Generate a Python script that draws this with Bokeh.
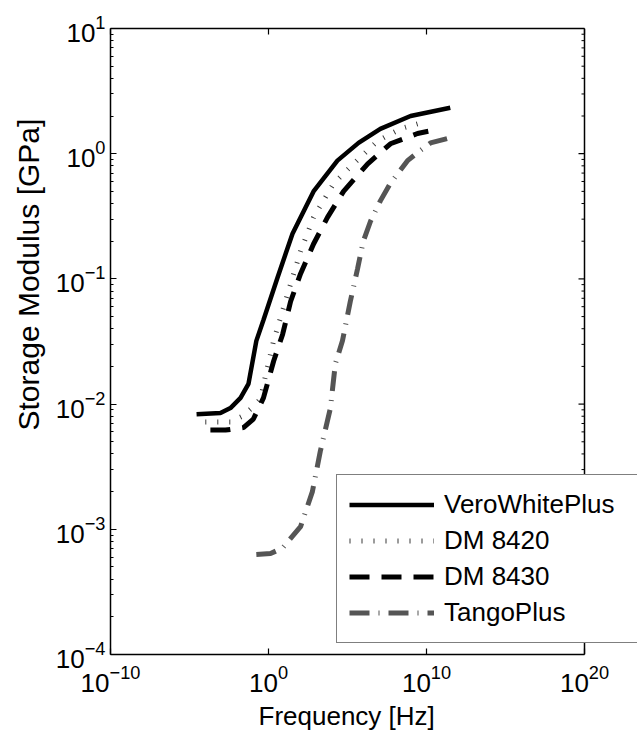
import math
from bokeh.plotting import figure
from bokeh.models import (LogAxis, FixedTicker, Range1d, Legend, LegendItem, Span, Title)
from bokeh.embed import file_html
from bokeh.resources import INLINE

# ---- data ----
vero_f = [2.8e-5, 9.1e-4, 3.9e-3, 0.017, 0.054, 0.17, 0.48, 3.7, 12, 33, 107, 708,
          2.3e4, 5.0e5, 1.2e7, 9.8e8, 3.2e11]
vero_e = [0.0083, 0.0085, 0.0093, 0.0112, 0.0145, 0.032, 0.047, 0.102, 0.158, 0.229,
          0.309, 0.50, 0.88, 1.22, 1.58, 2.0, 2.33]

dm8420_f = [1.0e-4, 5.9e-4, 3.9e-3, 0.022, 0.072, 0.31, 0.8, 2.1, 25, 107, 708,
            1.3e4, 2.4e5, 7.9e6, 2.2e8, 5.6e9]
dm8420_e = [0.0072, 0.0072, 0.0072, 0.0080, 0.0091, 0.011, 0.019, 0.032, 0.091, 0.166,
            0.31, 0.575, 0.83, 1.26, 1.58, 1.78]

dm8430_f = [2.1e-4, 1.9e-3, 0.026, 0.11, 0.48, 2.1, 7.8, 25, 107, 708, 5.4e3, 5.6e4,
            1.9e6, 5.2e7, 2.7e9, 1.3e10]
dm8430_e = [0.0062, 0.0062, 0.0065, 0.0076, 0.0112, 0.022, 0.036, 0.066, 0.11, 0.19,
            0.31, 0.50, 0.83, 1.20, 1.45, 1.51]

tango_f = [0.17, 1.35, 7.8, 107, 600, 1.9e3, 8.3e3, 1.7e4, 4.8e4, 1.5e5, 4.3e5, 1.0e6,
           2.9e6, 1.2e7, 5.2e7, 6.3e8, 2.7e9, 1.8e10, 2.0e11]
tango_e = [6.3e-4, 6.4e-4, 7.1e-4, 1.05e-3, 2.0e-3, 4.2e-3, 9.3e-3, 0.021, 0.032, 0.066,
           0.12, 0.20, 0.29, 0.42, 0.58, 0.88, 1.02, 1.22, 1.32]

x_major = [1e-10, 1e0, 1e10, 1e20]
y_major = [1e-4, 1e-3, 1e-2, 1e-1, 1e0, 1e1]
y_minor = [k * d for d in y_major[:-1] for k in range(2, 10)]

FONT = "Liberation Sans"
FS = "26px"

# axes box: 110..584 px wide; the canvas (and frame) runs on to 637 so the
# legend can hang over the right edge of the box, as in the reference
BOX_W, EXTRA = 474, 53
decades = math.log10(x_major[-1] / x_major[0])
x_end = x_major[-1] * 10 ** (decades * EXTRA / BOX_W)

p = figure(width=637, height=738, x_axis_type="log", y_axis_type="log",
           x_range=Range1d(x_major[0], x_end), y_range=Range1d(y_major[0], y_major[-1]),
           output_backend="svg", toolbar_location=None,
           min_border_left=110, min_border_right=0, min_border_top=28,
           min_border_bottom=84)
p.xgrid.visible = False
p.ygrid.visible = False
p.outline_line_color = None
p.background_fill_color = "white"
p.border_fill_color = "white"


def style(ax, labels=True):
    ax.axis_line_color = "black"
    ax.axis_line_width = 1.5
    ax.major_tick_line_color = "black"
    ax.minor_tick_line_color = "black"
    ax.major_tick_line_width = 1.2
    ax.minor_tick_line_width = 1
    ax.major_tick_in = 6
    ax.major_tick_out = 0
    ax.minor_tick_in = 3
    ax.minor_tick_out = 0
    ax.major_label_text_font = FONT
    ax.major_label_text_font_size = FS
    ax.major_label_text_color = "black"
    if not labels:
        ax.major_label_text_font_size = "0px"
        ax.major_label_text_alpha = 0


p.xaxis.ticker = FixedTicker(ticks=x_major, minor_ticks=[])
p.yaxis.ticker = FixedTicker(ticks=y_major, minor_ticks=y_minor)
style(p.xaxis[0])
style(p.yaxis[0])
p.xaxis.bounds = (x_major[0], x_major[-1])
p.xaxis.major_label_standoff = 10
p.yaxis.major_label_standoff = 5

top = LogAxis(ticker=FixedTicker(ticks=x_major, minor_ticks=[]),
              bounds=(x_major[0], x_major[-1]))
style(top, labels=False)
p.add_layout(top, "above")

# axis titles, positioned along the box like the reference
p.add_layout(Title(text="Frequency [Hz]", align="left", offset=148,
                   text_font=FONT, text_font_size=FS, text_font_style="normal",
                   text_color="black", standoff=8), "below")
p.add_layout(Title(text="Storage Modulus [GPa]", align="left", offset=224,
                   vertical_align="top",
                   text_font=FONT, text_font_size="30px", text_font_style="normal",
                   text_color="black", standoff=12), "left")

# right edge of the box with inward ticks
p.add_layout(Span(location=x_major[-1], dimension="height", line_color="black",
                  line_width=1.5))
p.ray(x=[x_major[-1]] * len(y_major), y=y_major, length=6, length_units="screen",
      angle=math.pi, line_color="black", line_width=1.2)
p.ray(x=[x_major[-1]] * len(y_minor), y=y_minor, length=3, length_units="screen",
      angle=math.pi, line_color="black", line_width=1)

r1 = p.line(vero_f, vero_e, line_color="black", line_width=4.5)
r2 = p.line(dm8420_f, dm8420_e, line_color="#3a3a3a", line_width=5,
            line_dash="1 11")
r3 = p.line(dm8430_f, dm8430_e, line_color="black", line_width=5,
            line_dash="20 12")
r4 = p.line(tango_f, tango_e, line_color="#555555", line_width=5,
            line_dash="20 9 1 9")

legend = Legend(items=[LegendItem(label="VeroWhitePlus", renderers=[r1]),
                       LegendItem(label="DM 8420", renderers=[r2]),
                       LegendItem(label="DM 8430", renderers=[r3]),
                       LegendItem(label="TangoPlus", renderers=[r4])],
                location=(226, 11))
legend.label_text_font = FONT
legend.label_text_font_size = FS
legend.label_text_color = "black"
legend.glyph_width = 85
legend.glyph_height = 35
legend.label_height = 35
legend.label_width = 190
legend.label_standoff = 10
legend.spacing = 1
legend.padding = 12
legend.margin = 0
legend.border_line_color = "black"
legend.border_line_width = 1.5
legend.background_fill_color = "white"
legend.background_fill_alpha = 1
p.add_layout(legend)

open("out.html", "w").write(file_html(p, INLINE))
